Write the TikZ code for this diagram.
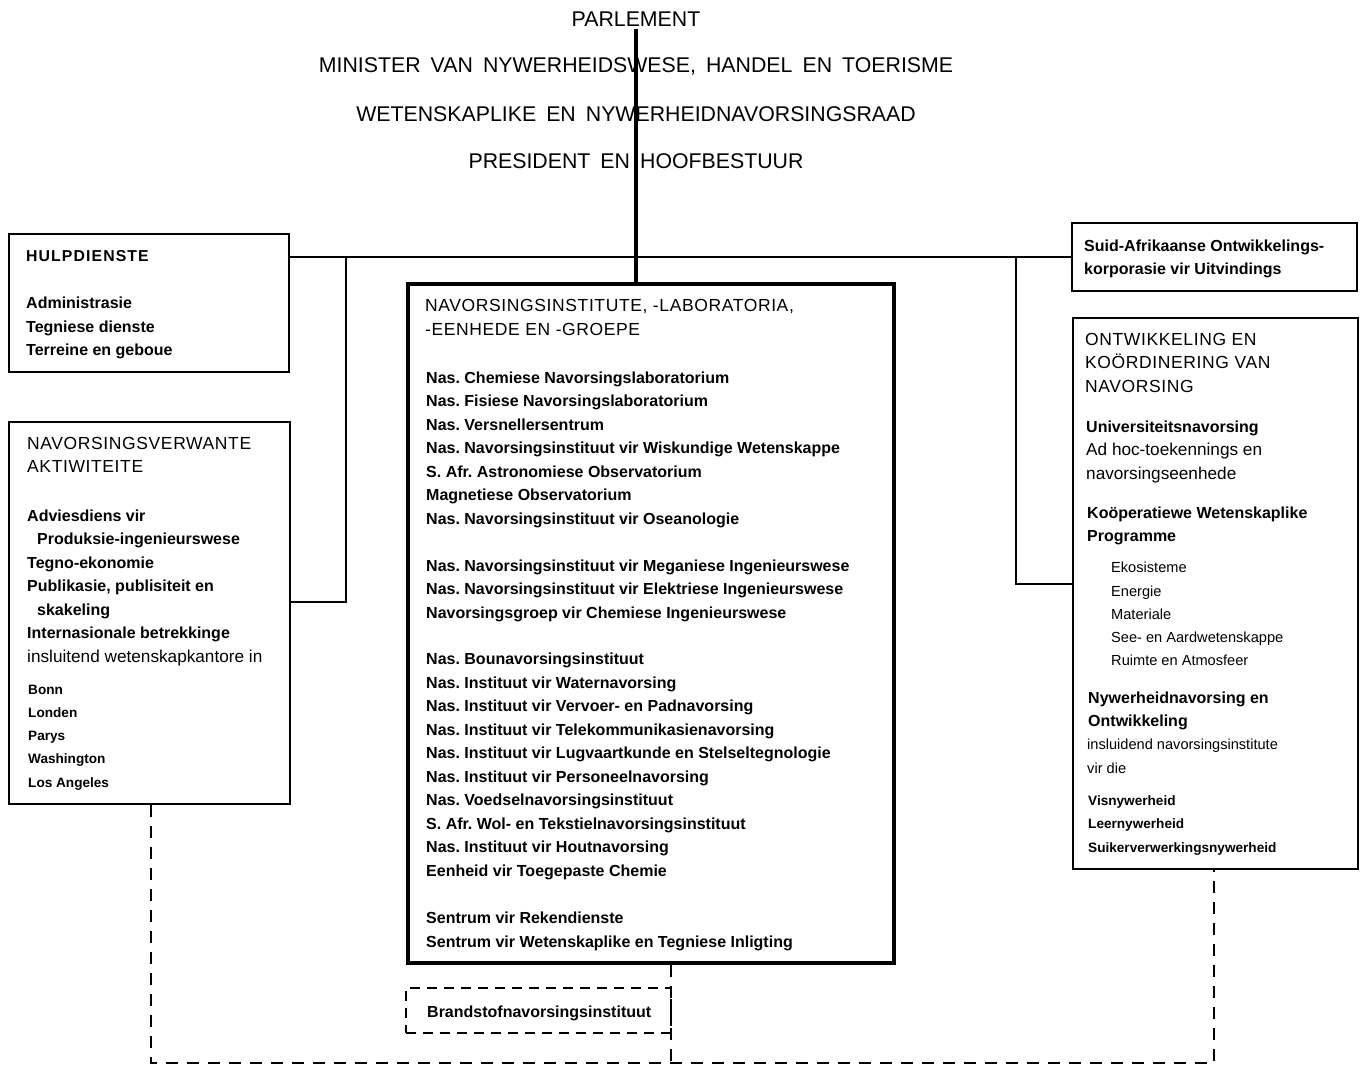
\documentclass[tikz,border=0pt]{standalone}
\usepackage{fontspec}
\setmainfont{Liberation Sans}
\newfontfamily\titlefont[WordSpace=1.7]{Liberation Sans}
\newfontfamily\headfont[LetterSpace=3.5]{Liberation Sans}
\newfontfamily\spacedbold[LetterSpace=7]{Liberation Sans Bold}
\frenchspacing
\begin{document}
\begin{tikzpicture}[x=1pt,y=-1pt,
  box/.style={draw, line width=2pt, rectangle, inner sep=0pt},
  bigbox/.style={draw, line width=4pt, rectangle, inner sep=0pt},
  dbox/.style={draw, line width=1.8pt, rectangle, inner sep=0pt, dash pattern=on 10pt off 7pt},
  conn/.style={line width=1.8pt},
  dconn/.style={line width=1.8pt, dash pattern=on 12pt off 9pt},
  trunk/.style={line width=3.5pt},
  ttl/.style={font=\titlefont\fontsize{21.3}{25}\selectfont, anchor=base, inner sep=0pt},
  bt/.style={font=\bfseries\fontsize{16}{18}\selectfont, anchor=base west, inner sep=0pt},
  hd/.style={font=\headfont\fontsize{17.5}{20}\selectfont, anchor=base west, inner sep=0pt},
  rg/.style={font=\fontsize{17.2}{20}\selectfont, anchor=base west, inner sep=0pt},
  sb/.style={font=\bfseries\fontsize{13.6}{16}\selectfont, anchor=base west, inner sep=0pt},
  sr/.style={font=\fontsize{14.6}{16}\selectfont, anchor=base west, inner sep=0pt},
]
\useasboundingbox (0,0) rectangle (1361,1066);

% titles
\node[ttl] (parl) at (636,26) {PARLEMENT};
\node[ttl] (min) at (636,72) {MINISTER VAN NYWERHEIDSWESE, HANDEL EN TOERISME};
\node[ttl] (wnnr) at (636,121) {WETENSKAPLIKE EN NYWERHEIDNAVORSINGSRAAD};
\node[ttl] (pres) at (636,168) {PRESIDENT EN HOOFBESTUUR};

% boxes
\node[box, minimum width=280pt, minimum height=138pt] (hulp) at (149,303) {};
\node[box, minimum width=281pt, minimum height=382pt] (nav) at (149.5,613) {};
\node[bigbox, minimum width=486pt, minimum height=679pt] (cen) at (651,623.5) {};
\node[box, minimum width=285pt, minimum height=68pt] (sa) at (1214.5,257) {};
\node[box, minimum width=285pt, minimum height=551pt] (ont) at (1215.5,593.5) {};
\node[dbox, minimum width=265pt, minimum height=45pt] (brand) at (538.5,1010.5) {};

% connectors
\coordinate (ctop) at (636,29);
\draw[trunk] (ctop) -- (ctop |- cen.north);
\draw[conn] (hulp.east |- sa.west) -- (sa.west);
\coordinate (lj) at (346,257);
\coordinate (lb) at (346,602);
\draw[conn] (lj) -- (lb) -- (nav.east |- lb);
\coordinate (rj) at (1016,257);
\coordinate (rb) at (1016,584);
\draw[conn] (rj) -- (rb) -- (ont.west |- rb);
\coordinate (bl) at (151,1063);
\coordinate (bm) at (671,1063);
\coordinate (br) at (1214,1063);
\draw[dconn] (nav.south -| bl) -- (bl) -- (br) -- (ont.south -| br);
\draw[dconn] (cen.south -| bm) -- (bm);

% HULPDIENSTE
\node[bt, font=\spacedbold\fontsize{15.8}{18}\selectfont] (h0) at (26,261) {HULPDIENSTE};
\node[bt] (h1) at (26,308) {Administrasie};
\node[bt] (h2) at (26,332) {Tegniese dienste};
\node[bt] (h3) at (26,355) {Terreine en geboue};

% NAVORSINGSVERWANTE
\node[hd] (n0) at (27,449) {NAVORSINGSVERWANTE};
\node[hd] (n1) at (27,472) {AKTIWITEITE};
\node[bt] (n2) at (27,521) {Adviesdiens vir};
\node[bt] (n3) at (37,544) {Produksie-ingenieurswese};
\node[bt] (n4) at (27,568) {Tegno-ekonomie};
\node[bt] (n5) at (27,591) {Publikasie, publisiteit en};
\node[bt] (n6) at (37,615) {skakeling};
\node[bt] (n7) at (27,638) {Internasionale betrekkinge};
\node[rg] (n8) at (27,662) {insluitend wetenskapkantore in};
\node[sb] (n9) at (28,694) {Bonn};
\node[sb] (n10) at (28,717) {Londen};
\node[sb] (n11) at (28,740) {Parys};
\node[sb] (n12) at (28,763) {Washington};
\node[sb] (n13) at (28,787) {Los Angeles};

% central box
\node[hd] (ch1) at (425,311) {NAVORSINGSINSTITUTE, -LABORATORIA,};
\node[hd] (ch2) at (425,335) {-EENHEDE EN -GROEPE};
\foreach \y/\t [count=\i] in {
  383/Nas. Chemiese Navorsingslaboratorium,
  406/Nas. Fisiese Navorsingslaboratorium,
  430/Nas. Versnellersentrum,
  453/Nas. Navorsingsinstituut vir Wiskundige Wetenskappe,
  477/S. Afr. Astronomiese Observatorium,
  500/Magnetiese Observatorium,
  524/Nas. Navorsingsinstituut vir Oseanologie,
  571/Nas. Navorsingsinstituut vir Meganiese Ingenieurswese,
  594/Nas. Navorsingsinstituut vir Elektriese Ingenieurswese,
  618/Navorsingsgroep vir Chemiese Ingenieurswese,
  664/Nas. Bounavorsingsinstituut,
  688/Nas. Instituut vir Waternavorsing,
  711/Nas. Instituut vir Vervoer- en Padnavorsing,
  735/Nas. Instituut vir Telekommunikasienavorsing,
  758/Nas. Instituut vir Lugvaartkunde en Stelseltegnologie,
  782/Nas. Instituut vir Personeelnavorsing,
  805/Nas. Voedselnavorsingsinstituut,
  829/S. Afr. Wol- en Tekstielnavorsingsinstituut,
  852/Nas. Instituut vir Houtnavorsing,
  876/Eenheid vir Toegepaste Chemie,
  923/Sentrum vir Rekendienste,
  947/Sentrum vir Wetenskaplike en Tegniese Inligting}
  {\node[bt] (c\i) at (426,\y) {\t};}

% Brandstof
\node[bt] (b1) at (427,1017) {Brandstofnavorsingsinstituut};

% Suid-Afrikaanse
\node[bt] (s1) at (1084,251) {Suid-Afrikaanse Ontwikkelings-};
\node[bt] (s2) at (1084,274) {korporasie vir Uitvindings};

% Ontwikkeling
\node[hd] (o1) at (1085,345) {ONTWIKKELING EN};
\node[hd] (o2) at (1085,368) {KOÖRDINERING VAN};
\node[hd] (o3) at (1085,392) {NAVORSING};
\node[bt] (o4) at (1086,432) {Universiteitsnavorsing};
\node[rg] (o5) at (1086,455) {Ad hoc-toekennings en};
\node[rg] (o6) at (1086,479) {navorsingseenhede};
\node[bt] (o7) at (1087,518) {Koöperatiewe Wetenskaplike};
\node[bt] (o8) at (1087,541) {Programme};
\node[sr] (o9) at (1111,572) {Ekosisteme};
\node[sr] (o10) at (1111,596) {Energie};
\node[sr] (o11) at (1111,619) {Materiale};
\node[sr] (o12) at (1111,642) {See- en Aardwetenskappe};
\node[sr] (o13) at (1111,665) {Ruimte en Atmosfeer};
\node[bt] (o14) at (1088,703) {Nywerheidnavorsing en};
\node[bt] (o15) at (1088,726) {Ontwikkeling};
\node[sr] (o16) at (1087,749) {insluidend navorsingsinstitute};
\node[sr] (o17) at (1087,773) {vir die};
\node[sb] (o18) at (1088,805) {Visnywerheid};
\node[sb] (o19) at (1088,828) {Leernywerheid};
\node[sb] (o20) at (1088,852) {Suikerverwerkingsnywerheid};
\end{tikzpicture}
\end{document}
